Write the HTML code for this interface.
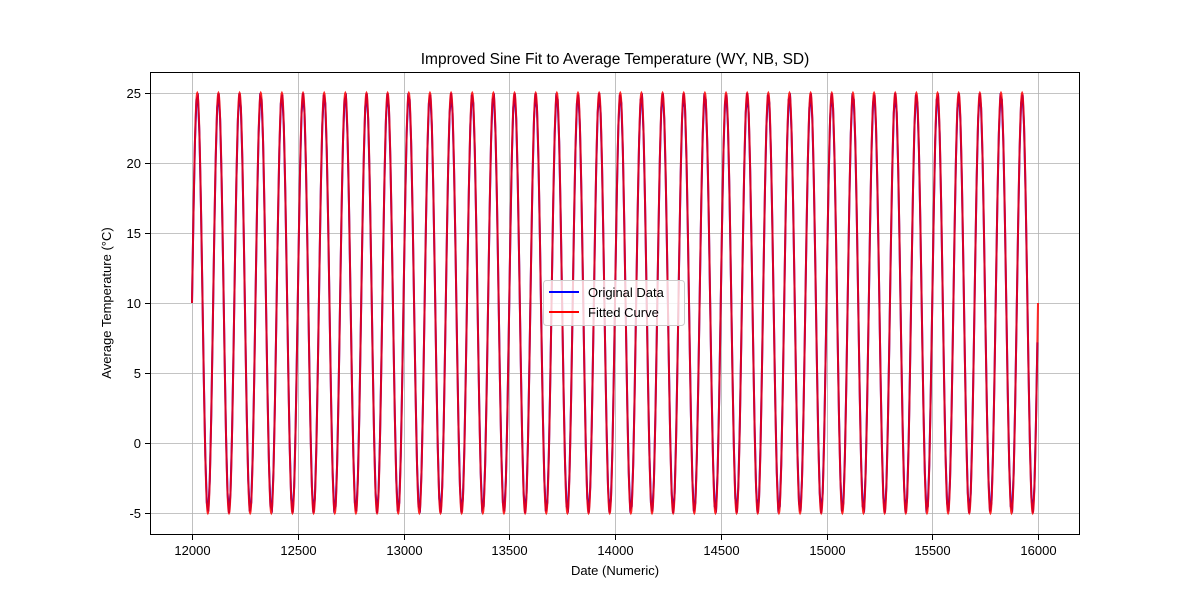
<!DOCTYPE html>
<html><head><meta charset="utf-8"><style>
body{margin:0;background:#fff;}
svg text{font-family:"Liberation Sans","DejaVu Sans",sans-serif;fill:#000;}
</style></head><body>
<svg id="chart" width="1200" height="600" xmlns="http://www.w3.org/2000/svg">
<rect width="1200" height="600" fill="#fff"/>
<text x="615" y="64" font-size="15.5" text-anchor="middle">Improved Sine Fit to Average Temperature (WY, NB, SD)</text>
<g id="grid"></g>
<g id="ticks"></g>
<clipPath id="clip"><rect x="150" y="72" width="930" height="463"/></clipPath>
<g id="series" clip-path="url(#clip)"></g>
<rect x="150.5" y="72.5" width="929" height="462" fill="none" stroke="#000" stroke-width="1"/>
<text x="615" y="575" font-size="13" text-anchor="middle">Date (Numeric)</text>
<text transform="translate(111,303) rotate(-90)" font-size="13" text-anchor="middle">Average Temperature (°C)</text>
<g>
<rect x="543.5" y="280.5" width="141" height="45" rx="3" fill="#fff" fill-opacity="0.8" stroke="#ccc"/>
<line x1="549" y1="292" x2="579" y2="292" stroke="#0000ff" stroke-width="2"/>
<text x="588" y="297" font-size="13">Original Data</text>
<line x1="549" y1="312" x2="579" y2="312" stroke="#ff0000" stroke-width="2"/>
<text x="588" y="317" font-size="13">Fitted Curve</text>
</g>
</svg>
<script>
const xTicks=[12000,12500,13000,13500,14000,14500,15000,15500,16000];
const yTicks=[-5,0,5,10,15,20,25];
const dateRange=[12000,16000];
const fitAmplitude=[15];
const fitPeriod=[100];
const fitMean=[10];
const sampleStep=[7];
const NS="http://www.w3.org/2000/svg";
const X=v=>192+(v-12000)*(846/4000);
const Y=v=>93+(25-v)*14;
const grid=document.getElementById('grid'),ticks=document.getElementById('ticks'),series=document.getElementById('series');
function mk(tag,attrs,parent){const e=document.createElementNS(NS,tag);for(const k in attrs)e.setAttribute(k,attrs[k]);parent.appendChild(e);return e;}
xTicks.forEach(t=>{const x=Math.round(X(t))+0.5;
 const g=mk('line',{x1:x,x2:x,y1:72,y2:535,stroke:'#b0b0b0','stroke-width':0.8},grid);
 
 
 mk('line',{x1:x,x2:x,y1:535,y2:540,stroke:'#000'},ticks);
 const l=mk('text',{x:x,y:555,'font-size':13,'text-anchor':'middle'},ticks);l.textContent=t;
 
 });
yTicks.forEach(t=>{const y=Math.round(Y(t))+0.5;
 const g=mk('line',{x1:150,x2:1080,y1:y,y2:y,stroke:'#b0b0b0','stroke-width':0.8},grid);
 
 
 mk('line',{x1:145,x2:150,y1:y,y2:y,stroke:'#000'},ticks);
 const l=mk('text',{x:141,y:y+4.5,'font-size':13,'text-anchor':'end'},ticks);l.textContent=t;
 
 });
function curve(step){let d='';for(let t=dateRange[0];t<=dateRange[1]+1e-9;t+=step){
 const v=fitMean[0]+fitAmplitude[0]*Math.sin(2*Math.PI*(t-dateRange[0])/fitPeriod[0]);
 d+=(d?'L':'M')+X(t).toFixed(2)+','+Y(v).toFixed(2);}return d;}
const orig=mk('path',{d:curve(sampleStep[0]),fill:'none',stroke:'#0000ff','stroke-width':2},series);


const fit=mk('path',{d:curve(1),fill:'none',stroke:'#ff0000','stroke-width':2,'stroke-opacity':0.85},series);


</script>
</body></html>
